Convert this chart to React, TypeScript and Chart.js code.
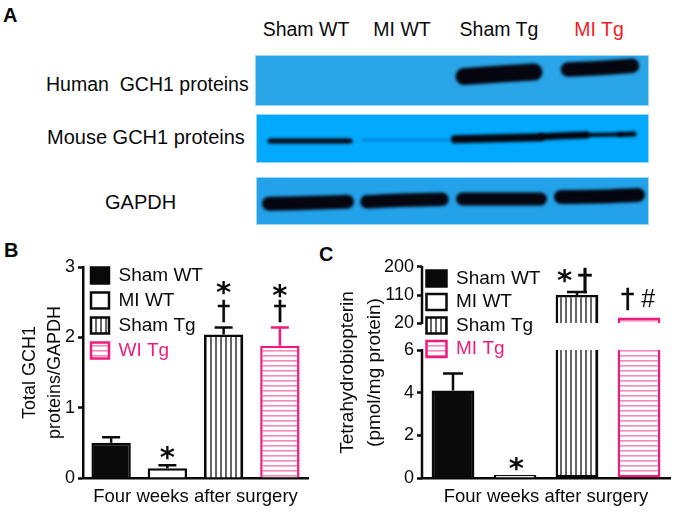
import React, { useEffect, useRef } from "react";
import { Chart, registerables, LinearScale } from "chart.js";

const FONT = '"Liberation Sans", Arial, sans-serif';
const MARK_FONT = '"DejaVu Sans", sans-serif';
const INK = "#0a0a0a";
const PINK = "#ee1c7c";

// Panel A
const laneLabels = ["Sham WT", "MI WT", "Sham Tg", "MI Tg"];
const laneColors = [INK, INK, INK, "#f01c24"];
const rowLabels = ["Human  GCH1 proteins", "Mouse GCH1 proteins", "GAPDH"];
type Band = { w: number; c?: string; pts: [number, number][] };
const humanBands: Band[] = [
  { w: 17, pts: [[209, 21.5], [245, 19], [279, 17]] },
  { w: 14.5, pts: [[313, 14.5], [345, 13], [377, 10.7]] },
];
const mouseBands: Band[] = [
  { w: 5, pts: [[14, 27], [94, 27]] },
  { w: 1.5, c: "rgba(0,50,140,0.55)", pts: [[107, 26], [194, 26]] },
  { w: 8, pts: [[199, 25.3], [284, 23.3]] },
  { w: 7, pts: [[285, 22.7], [330, 21]] },
  { w: 4, pts: [[330, 21], [364, 20.5]] },
  { w: 5, pts: [[364, 20.5], [378, 20]] },
];
const gapdhBands: Band[] = [
  { w: 14, pts: [[13, 26.7], [50, 26], [91, 24.7]] },
  { w: 13.5, pts: [[111, 24.7], [150, 23], [186, 22.3]] },
  { w: 13, pts: [[206.5, 22], [284.5, 22]] },
  { w: 14, pts: [[305, 20], [345, 19.5], [382, 18]] },
];

// Panel B
const bLegend = ["Sham WT", "MI WT", "Sham Tg", "WI Tg"];
const bValues = [0.5, 0.14, 2.04, 1.88];
const bErrTop = [0.58, 0.18, 2.14, 2.14];
const bTicks = [0, 1, 2, 3];
const bMarks: [number, number, string, number][] = [
  [1, 0.156, "*", 29],
  [2, 2.5, "*", 29],
  [2, 2.24, "†", 26],
  [3, 2.46, "*", 29],
  [3, 2.24, "†", 26],
];

// Panel C
const cLegend = ["Sham WT", "MI WT", "Sham Tg", "MI Tg"];
const cLower: (number | [number, number])[] = [4.1, 0.14, [0, 6], [0, 6]];
const cUpper: (null | [number, number])[] = [null, null, [20, 110], [20, 38]];
const cErrTop = [4.9, null, 120, null];
const cTicks = [0, 2, 4, 6, 20, 110, 200];
const cMarks: [number, number, string, number][] = [
  [1.02, 0.0, "*", 29],
  [1.8, 126, "*", 29],
  [2.13, 126, "†", 30],
  [2.82, 68, "†", 27],
  [3.15, 71, "#", 25],
];

const categories = ["Sham WT", "MI WT", "Sham Tg", "MI Tg"];

class BrokenScale extends LinearScale {
  static id = "broken";
  static defaults = LinearScale.defaults;
  buildTicks() {
    return (this.options as any).tickValues.map((value: number) => ({ value }));
  }
  getPixelForValue(v: number) {
    const o = this.options as any;
    const h = this.bottom - this.top;
    const lowPx = this.bottom - (v / o.lowMax) * h * o.lowFrac;
    if (v <= o.lowMax) return lowPx;
    const upBase = this.top + h * o.upFrac;
    if (v >= o.upMin) return upBase - ((v - o.upMin) / (o.max - o.upMin)) * h * o.upFrac;
    const lowTop = this.bottom - h * o.lowFrac;
    return lowTop - ((v - o.lowMax) / (o.upMin - o.lowMax)) * (lowTop - upBase);
  }
}

Chart.register(...registerables, BrokenScale);

function stripes(vertical: boolean, color: string, period: number, thick: number) {
  const c = document.createElement("canvas");
  c.width = vertical ? period : 4;
  c.height = vertical ? 4 : period;
  const x = c.getContext("2d")!;
  x.fillStyle = "#fff";
  x.fillRect(0, 0, c.width, c.height);
  x.fillStyle = color;
  if (vertical) x.fillRect(0, 0, thick, 4);
  else x.fillRect(0, 0, 4, thick);
  return x.createPattern(c, "repeat")!;
}

function fills() {
  return [INK, "#ffffff", stripes(true, "#666", 5, 2), stripes(false, "#f48abb", 5, 1.6)];
}
const edges = [INK, INK, INK, PINK];

function legendOptions(names: string[], padding: number, boxWidth: number) {
  return {
    display: true,
    position: "chartArea" as const,
    align: "start" as const,
    labels: {
      boxWidth,
      boxHeight: 16,
      padding,
      font: { size: 19, family: FONT },
      color: INK,
      generateLabels: () => {
        const f = fills();
        return names.map((text, i) => ({
          text,
          fillStyle: f[i],
          strokeStyle: edges[i],
          lineWidth: 2.5,
          fontColor: i === 3 ? PINK : INK,
          hidden: false,
          index: i,
        }));
      },
    },
  };
}

const extras = {
  id: "extras",
  afterLayout(chart: any, _a: any, o: any) {
    if (chart.legend) {
      chart.legend.left += o.legendDx || 0;
      chart.legend.top = chart.chartArea.top + (o.legendDy || 0);
    }
  },
  afterDatasetsDraw(chart: any, _a: any, o: any) {
    const { ctx, scales } = chart;
    const { x, y } = scales;
    ctx.save();
    ctx.lineWidth = 2.5;
    (o.errTop as (number | null)[]).forEach((top, i) => {
      if (top == null) return;
      const col = o.errColors[i];
      const px = x.getPixelForValue(i);
      const raw = o.bars[i];
      ctx.strokeStyle = col;
      ctx.beginPath();
      ctx.moveTo(px, y.getPixelForValue(raw));
      ctx.lineTo(px, y.getPixelForValue(top));
      ctx.moveTo(px - o.cap / 2, y.getPixelForValue(top));
      ctx.lineTo(px + o.cap / 2, y.getPixelForValue(top));
      ctx.stroke();
    });
    ctx.fillStyle = INK;
    ctx.strokeStyle = INK;
    ctx.textAlign = "center";
    ctx.textBaseline = "alphabetic";
    (o.marks as [number, number, string, number][]).forEach(([cx, v, g, size]) => {
      ctx.font = g === "#" ? `${size}px ${FONT}` : g === "*" ? `bold ${size}px ${MARK_FONT}` : `${size}px ${MARK_FONT}`;
      const px = x.getPixelForValue(cx);
      const py = y.getPixelForValue(v);
      ctx.fillText(g, px, py);
      if (g === "†") {
        ctx.lineWidth = 0.4;
        ctx.strokeText(g, px, py);
      }
    });
    if (o.breakAxis) {
      ctx.strokeStyle = INK;
      ctx.lineWidth = 2.5;
      ctx.beginPath();
      ctx.moveTo(y.left + y.width, y.getPixelForValue(0) + 1);
      ctx.lineTo(y.left + y.width, y.getPixelForValue(o.breakAxis[0]) - 1);
      ctx.moveTo(y.left + y.width, y.getPixelForValue(o.breakAxis[1]) + 1);
      ctx.lineTo(y.left + y.width, y.getPixelForValue(200) - 1);
      ctx.stroke();
    }
    ctx.restore();
  },
};

const soften = {
  id: "soften",
  beforeDatasetsDraw(chart: any) {
    chart.ctx.save();
    chart.ctx.filter = "blur(1.4px)";
  },
  afterDatasetsDraw(chart: any) {
    chart.ctx.restore();
  },
};

function xAxis(height: number) {
  return {
    type: "category" as const,
    labels: categories,
    grid: { display: false },
    ticks: { display: false },
    border: { display: true, color: INK, width: 2.5 },
    title: {
      display: true,
      text: "Four weeks after surgery",
      color: INK,
      font: { size: 18.5, family: FONT },
      padding: { top: 0, bottom: 4 },
    },
    afterFit: (s: any) => {
      s.height = height;
    },
  };
}

function Blot({ bands, bg, left, top, w, h }: { bands: Band[]; bg: string; left: number; top: number; w: number; h: number }) {
  const ref = useRef<HTMLCanvasElement>(null);
  useEffect(() => {
    const chart = new Chart(ref.current!, {
      type: "scatter",
      data: {
        datasets: bands.map((b) => ({
          data: b.pts.map(([x, y]) => ({ x, y })),
          showLine: true,
          borderColor: b.c || "#05060f",
          borderWidth: b.w,
          borderCapStyle: "round",
          pointRadius: 0,
          tension: 0.3,
          clip: false,
        })),
      },
      options: {
        animation: false,
        responsive: false,
        layout: { padding: 0 },
        plugins: { legend: { display: false }, tooltip: { enabled: false } },
        scales: {
          x: { type: "linear", min: 0, max: w, display: false },
          y: { type: "linear", min: 0, max: h, reverse: true, display: false },
        },
      },
      plugins: [soften],
    } as any);
    return () => chart.destroy();
  }, []);
  return (
    <canvas
      ref={ref}
      width={w}
      height={h}
      style={{ position: "absolute", left, top, width: w, height: h, background: bg, boxShadow: "0 0 0 1px rgba(170,220,250,0.9) inset" }}
    />
  );
}

function PanelB() {
  const ref = useRef<HTMLCanvasElement>(null);
  useEffect(() => {
    const chart = new Chart(ref.current!, {
      type: "bar",
      data: {
        labels: categories,
        datasets: [
          {
            data: bValues,
            backgroundColor: fills(),
            borderColor: edges,
            borderWidth: 2.5,
            borderSkipped: "bottom",
            barPercentage: 0.7,
            categoryPercentage: 1,
          },
        ],
      },
      options: {
        animation: false,
        responsive: false,
        layout: { padding: { top: 32, right: 22, left: 0, bottom: 0 } },
        plugins: {
          legend: legendOptions(bLegend, 6, 18),
          tooltip: { enabled: false },
          extras: {
            errTop: bErrTop,
            errColors: [INK, INK, INK, PINK],
            bars: bValues,
            cap: 18,
            marks: bMarks,
            legendDx: 2,
            legendDy: -7,
          },
        },
        scales: {
          x: xAxis(34),
          y: {
            min: 0,
            max: 3,
            afterBuildTicks: (s: any) => {
              s.ticks = bTicks.map((value) => ({ value }));
            },
            ticks: { color: INK, font: { size: 18, family: FONT }, padding: 3 },
            grid: { drawOnChartArea: false, drawTicks: true, tickLength: 5, tickWidth: 2.5, tickColor: INK },
            border: { display: true, color: INK, width: 2.5 },
            title: {
              display: true,
              text: ["Total GCH1", "proteins/GAPDH"],
              color: INK,
              font: { size: 18, family: FONT, lineHeight: 25 / 18 },
              padding: { top: 18, bottom: 0 },
            },
            afterFit: (s: any) => {
              s.width = 83;
            },
          },
        },
      },
      plugins: [extras],
    } as any);
    return () => chart.destroy();
  }, []);
  return <canvas ref={ref} width={330} height={277} style={{ position: "absolute", left: 0, top: 235 }} />;
}

function PanelC() {
  const ref = useRef<HTMLCanvasElement>(null);
  useEffect(() => {
    const f = fills();
    const chart = new Chart(ref.current!, {
      type: "bar",
      data: {
        labels: categories,
        datasets: [
          {
            data: cLower,
            backgroundColor: f,
            borderColor: edges,
            borderWidth: 2.5,
            borderSkipped: (c: any) => (c.dataIndex >= 2 ? "top" : "bottom"),
            barPercentage: 0.69,
            categoryPercentage: 1,
            grouped: false,
          },
          {
            data: cUpper,
            backgroundColor: f,
            borderColor: edges,
            borderWidth: 2.5,
            borderSkipped: "bottom",
            barPercentage: 0.69,
            categoryPercentage: 1,
            grouped: false,
          },
        ],
      },
      options: {
        animation: false,
        responsive: false,
        layout: { padding: { top: 32, right: 5, left: 0, bottom: 0 } },
        plugins: {
          legend: legendOptions(cLegend, 4.5, 20),
          tooltip: { enabled: false },
          extras: {
            errTop: cErrTop,
            errColors: [INK, INK, INK, INK],
            bars: [4.1, 0.14, 110, 38],
            cap: 20,
            marks: cMarks,
            legendDy: -2.5,
            breakAxis: [6, 20],
          },
        },
        scales: {
          x: xAxis(34),
          y: {
            type: "broken",
            min: 0,
            max: 200,
            tickValues: cTicks,
            lowMax: 6,
            upMin: 20,
            lowFrac: 128 / 211,
            upFrac: 56 / 211,
            ticks: { color: INK, font: { size: 18, family: FONT }, padding: 3, autoSkip: false, callback: (v: number) => String(v) },
            grid: { drawOnChartArea: false, drawTicks: true, tickLength: 5, tickWidth: 2.5, tickColor: INK },
            border: { display: false },
            title: {
              display: true,
              text: ["Tetrahydrobiopterin", "(pmol/mg protein)"],
              color: INK,
              font: { size: 19, family: FONT, lineHeight: 27 / 19 },
              padding: { top: 4, bottom: 0 },
            },
            afterFit: (s: any) => {
              s.width = 92;
            },
          },
        },
      },
      plugins: [extras],
    } as any);
    return () => chart.destroy();
  }, []);
  return <canvas ref={ref} width={345} height={277} style={{ position: "absolute", left: 330, top: 235 }} />;
}

const textBase: React.CSSProperties = { position: "absolute", fontFamily: FONT, whiteSpace: "pre", lineHeight: 1, color: INK };
const laneCenters = [306, 402, 499, 599];
const rowSpots: [number, number, number][] = [[46, 85, 19.5], [47, 137, 20], [105, 202, 20]];

export default function App() {
  return (
    <div style={{ position: "absolute", left: 0, top: 0, width: 675, height: 512, background: "#fff", overflow: "hidden", filter: "blur(0.4px)" }}>
      <div style={{ ...textBase, left: 3, top: 5, fontSize: 20, fontWeight: 700 }}>A</div>
      <div style={{ ...textBase, left: 4, top: 240, fontSize: 20, fontWeight: 700 }}>B</div>
      <div style={{ ...textBase, left: 319, top: 244, fontSize: 20, fontWeight: 700 }}>C</div>
      {laneLabels.map((t, i) => (
        <div key={t} style={{ ...textBase, left: laneCenters[i], top: 20, fontSize: 19.5, color: laneColors[i], transform: "translateX(-50%)" }}>{t}</div>
      ))}
      {rowLabels.map((t, i) => (
        <div key={t} style={{ ...textBase, left: rowSpots[i][0], top: rowSpots[i][1] - 10, fontSize: rowSpots[i][2] }}>{t}</div>
      ))}
      <Blot bands={humanBands} bg="#29a5e8" left={255} top={55} w={394} h={51} />
      <Blot bands={mouseBands} bg="#02a9fd" left={256} top={114} w={393} h={49} />
      <Blot bands={gapdhBands} bg="#23a2ea" left={256} top={177} w={393} h={48} />
      <PanelB />
      <PanelC />
    </div>
  );
}
